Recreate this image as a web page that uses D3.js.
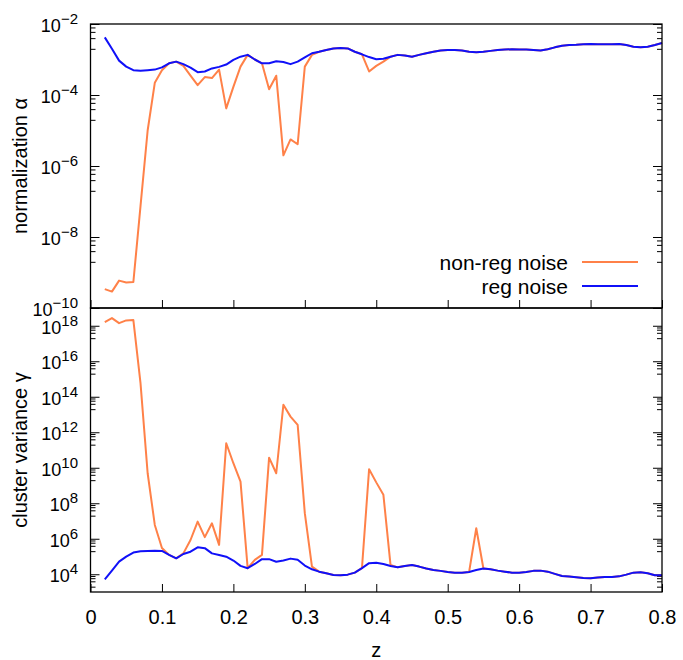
<!DOCTYPE html>
<meta charset="utf-8">
<style>
body { margin: 0; background: #fff; }
text { font-family: "Liberation Sans", Arial, sans-serif; fill: #000; }
.frame { fill: none; stroke: #000; stroke-width: 1.3px; }
.tick line { stroke: #000; stroke-width: 1px; }
.curve { fill: none; stroke-width: 2px; stroke-linejoin: round; }
</style>
<body>
<script src="https://d3js.org/d3.v7.min.js"></script>
<script>

// redshift grid
var z = [0.02, 0.03, 0.04, 0.05, 0.06, 0.07, 0.08, 0.09, 0.10,
  0.11, 0.12, 0.13, 0.14, 0.15, 0.16, 0.17, 0.18, 0.19, 0.20,
  0.21, 0.22, 0.23, 0.24, 0.25, 0.26, 0.27, 0.28, 0.29, 0.30,
  0.31, 0.32, 0.33, 0.34, 0.35, 0.36, 0.37, 0.38, 0.39, 0.40,
  0.41, 0.42, 0.43, 0.44, 0.45, 0.46, 0.47, 0.48, 0.49, 0.50,
  0.51, 0.52, 0.53, 0.54, 0.55, 0.56, 0.57, 0.58, 0.59, 0.60,
  0.61, 0.62, 0.63, 0.64, 0.65, 0.66, 0.67, 0.68, 0.69, 0.70,
  0.71, 0.72, 0.73, 0.74, 0.75, 0.76, 0.77, 0.78, 0.79, 0.80];

// normalization alpha
var nonRegAlpha = [3.4e-10, 2.9e-10, 5.9e-10, 5.2e-10, 5.4e-10, 7.4e-8, 1.0e-5, 2.2e-4, 5.0e-4,
  7.8e-4, 8.7e-4, 6.6e-4, 3.5e-4, 1.9e-4, 3.2e-4, 3.0e-4, 5.2e-4, 4.2e-5, 1.7e-4,
  6.3e-4, 1.35e-3, 1.0e-3, 7.8e-4, 1.45e-4, 3.5e-4, 2.0e-6, 5.6e-6, 4.1e-6, 6.3e-4,
  1.35e-3, 1.65e-3, 1.85e-3, 2.05e-3, 2.1e-3, 2.05e-3, 1.65e-3, 1.4e-3, 4.6e-4, 6.6e-4,
  8.7e-4, 1.2e-3, 1.35e-3, 1.3e-3, 1.2e-3, 1.35e-3, 1.5e-3, 1.65e-3, 1.8e-3, 1.85e-3,
  1.85e-3, 1.8e-3, 1.65e-3, 1.6e-3, 1.65e-3, 1.75e-3, 1.85e-3, 1.9e-3, 1.95e-3, 1.9e-3,
  1.9e-3, 1.85e-3, 1.8e-3, 1.95e-3, 2.2e-3, 2.45e-3, 2.55e-3, 2.6e-3, 2.7e-3, 2.75e-3,
  2.7e-3, 2.7e-3, 2.7e-3, 2.75e-3, 2.55e-3, 2.3e-3, 2.2e-3, 2.3e-3, 2.55e-3, 2.9e-3];

var regAlpha = [4.2e-3, 2.0e-3, 9.3e-4, 6.3e-4, 5.0e-4, 4.8e-4, 5.0e-4, 5.2e-4, 6.0e-4,
  7.8e-4, 8.7e-4, 7.4e-4, 5.9e-4, 4.4e-4, 4.6e-4, 5.6e-4, 6.2e-4, 7.2e-4, 9.8e-4,
  1.2e-3, 1.35e-3, 1.0e-3, 7.8e-4, 7.8e-4, 8.9e-4, 8.5e-4, 7.4e-4, 8.7e-4, 1.15e-3,
  1.5e-3, 1.65e-3, 1.85e-3, 2.05e-3, 2.1e-3, 2.05e-3, 1.65e-3, 1.4e-3, 1.17e-3, 1.02e-3,
  1.05e-3, 1.2e-3, 1.35e-3, 1.3e-3, 1.2e-3, 1.35e-3, 1.5e-3, 1.65e-3, 1.8e-3, 1.85e-3,
  1.85e-3, 1.8e-3, 1.65e-3, 1.6e-3, 1.65e-3, 1.75e-3, 1.85e-3, 1.9e-3, 1.95e-3, 1.9e-3,
  1.9e-3, 1.85e-3, 1.8e-3, 1.95e-3, 2.2e-3, 2.45e-3, 2.55e-3, 2.6e-3, 2.7e-3, 2.75e-3,
  2.7e-3, 2.7e-3, 2.7e-3, 2.75e-3, 2.55e-3, 2.3e-3, 2.2e-3, 2.3e-3, 2.55e-3, 2.9e-3];

// cluster variance gamma
var nonRegGamma = [1.6e18, 2.7e18, 1.4e18, 2.0e18, 2.1e18, 5.9e14, 4.9e9, 6.0e6, 3.0e5,
  1.23e5, 7.9e4, 1.5e5, 8.5e5, 9.3e6, 1.23e6, 7.4e6, 4.5e5, 2.4e11, 1.8e10,
  1.66e9, 2.2e4, 6.5e4, 1.23e5, 3.7e10, 4.9e9, 3.5e13, 7.6e12, 2.6e12, 2.75e7,
  2.7e4, 1.4e4, 1.15e4, 9.1e3, 8.7e3, 9.5e3, 1.23e4, 2.2e4, 8.3e9, 1.5e9,
  3.0e8, 3.3e4, 2.45e4, 2.95e4, 3.3e4, 2.7e4, 2.1e4, 1.74e4, 1.55e4, 1.35e4,
  1.23e4, 1.23e4, 1.35e4, 3.9e6, 2.1e4, 1.9e4, 1.6e4, 1.4e4, 1.23e4, 1.23e4,
  1.35e4, 1.55e4, 1.6e4, 1.4e4, 1.05e4, 7.9e3, 7.4e3, 6.8e3, 6.2e3, 5.9e3,
  6.5e3, 7.1e3, 7.1e3, 7.6e3, 9.5e3, 1.23e4, 1.3e4, 1.15e4, 8.7e3, 8.7e3];

var regGamma = [5.2e3, 1.6e4, 5.1e4, 9.8e4, 1.66e5, 2.0e5, 2.05e5, 2.1e5, 2.05e5,
  1.23e5, 7.9e4, 1.38e5, 1.86e5, 3.3e5, 2.95e5, 1.5e5, 1.23e5, 9.8e4, 5.9e4,
  2.95e4, 2.2e4, 3.8e4, 7.1e4, 7.1e4, 5.1e4, 5.9e4, 7.6e4, 6.5e4, 3.1e4,
  1.9e4, 1.4e4, 1.15e4, 9.1e3, 8.7e3, 9.5e3, 1.23e4, 2.2e4, 4.2e4, 4.5e4,
  3.8e4, 2.95e4, 2.45e4, 2.95e4, 3.3e4, 2.7e4, 2.1e4, 1.74e4, 1.55e4, 1.35e4,
  1.23e4, 1.23e4, 1.35e4, 1.74e4, 2.1e4, 1.9e4, 1.6e4, 1.4e4, 1.23e4, 1.23e4,
  1.35e4, 1.55e4, 1.6e4, 1.4e4, 1.05e4, 7.9e3, 7.4e3, 6.8e3, 6.2e3, 5.9e3,
  6.5e3, 7.1e3, 7.1e3, 7.6e3, 9.5e3, 1.23e4, 1.3e4, 1.15e4, 8.7e3, 8.7e3];

// ticks
var xTicks = [0, 0.1, 0.2, 0.3, 0.4, 0.5, 0.6, 0.7, 0.8];
var xTickLabels = ["0", "0.1", "0.2", "0.3", "0.4", "0.5", "0.6", "0.7", "0.8"];
var alphaExps = [-2, -4, -6, -8, -10];
var gammaExps = [4, 6, 8, 10, 12, 14, 16, 18];

var seriesNames = ["non-reg noise", "reg noise"];
var colors = ["#ff8148", "#1010f8"];

var width = 683, height = 660;
// note: "top" is taken by window.top, so the edges get plot* names
var plotLeft = 90.5, plotRight = 662, plotTop = 24, plotMid = 308, plotBottom = 592;

var svg = d3.select("body").append("svg")
  .attr("width", width)
  .attr("height", height);

var x = d3.scaleLinear().domain([0, 0.8]).range([plotLeft, plotRight]);
var yA = d3.scaleLog().domain([1e-10, 1e-2]).range([plotMid, plotTop]);
var yG = d3.scaleLog().domain([1e3, 1e19]).range([plotBottom, plotMid]);

// minor ticks sit at 2,4,6,8 x 10^(e-1) below every major 10^e
function minorTicks(exps, y) {
  var dom = y.domain(), out = [];
  exps.forEach(function(e) {
    [2, 4, 6, 8].forEach(function(k) {
      var v = k * Math.pow(10, e - 1);
      if (v >= dom[0] && v <= dom[1]) out.push(v);
    });
  });
  return out;
}

function drawPanel(y, exps, series, y0, y1, showXLabels) {
  var g = svg.append("g");
  var majors = exps.map(function(e) { return Math.pow(10, e); });
  var minors = minorTicks(exps, y);

  // y ticks on both sides, pointing inward
  [[d3.axisLeft, plotLeft], [d3.axisRight, plotRight]].forEach(function(s) {
    g.append("g").attr("transform", "translate(" + s[1] + ",0)")
      .call(s[0](y).tickValues(majors).tickSize(-9).tickSizeOuter(0).tickFormat(""))
      .call(function(a) { a.select(".domain").remove(); });
    g.append("g").attr("transform", "translate(" + s[1] + ",0)")
      .call(s[0](y).tickValues(minors).tickSize(-5).tickSizeOuter(0).tickFormat(""))
      .call(function(a) { a.select(".domain").remove(); });
  });

  // x ticks pointing up from the panel bottom
  var xa = g.append("g").attr("transform", "translate(0," + y1 + ")")
    .call(d3.axisBottom(x).tickValues(xTicks).tickSize(-8).tickSizeOuter(0).tickPadding(18)
      .tickFormat(function(d, i) { return showXLabels ? xTickLabels[i] : ""; }));
  xa.select(".domain").remove();
  xa.attr("font-size", 20).attr("font-family", null);

  // y tick labels as 10^e
  exps.forEach(function(e) {
    var t = g.append("text")
      .attr("x", 78)
      .attr("y", y(Math.pow(10, e)) + 8)
      .attr("text-anchor", "end")
      .attr("font-size", 18);
    t.append("tspan").text("10");
    t.append("tspan").attr("font-size", 15).attr("dy", -8).text(String(e).replace("-", "\u2212"));
  });

  // curves
  var line = d3.line()
    .x(function(d, i) { return x(z[i]); })
    .y(function(d) { return y(d); });

  series.forEach(function(s, i) {
    g.append("path")
      .attr("class", "curve")
      .attr("d", line(s))
      .attr("stroke", colors[i]);
  });

  g.append("rect")
    .attr("class", "frame")
    .attr("x", plotLeft)
    .attr("y", y0)
    .attr("width", plotRight - plotLeft)
    .attr("height", y1 - y0);
  return g;
}

drawPanel(yA, alphaExps, [nonRegAlpha, regAlpha], plotTop, plotMid, false);
drawPanel(yG, gammaExps, [nonRegGamma, regGamma], plotMid, plotBottom, true);

// axis titles
svg.append("text")
  .attr("transform", "translate(27," + (plotTop + plotMid) / 2 + ") rotate(-90)")
  .attr("text-anchor", "middle")
  .attr("font-size", 20)
  .text("normalization \u03b1");

svg.append("text")
  .attr("transform", "translate(27,450) rotate(-90)")
  .attr("text-anchor", "middle")
  .attr("font-size", 20)
  .text("cluster variance \u03b3");

svg.append("text")
  .attr("x", (plotLeft + plotRight) / 2)
  .attr("y", 657)
  .attr("text-anchor", "middle")
  .attr("font-size", 20)
  .text("z");

// legend
var legend = svg.append("g");
seriesNames.forEach(function(name, i) {
  var ly = 262 + i * 24;
  legend.append("text")
    .attr("x", 568)
    .attr("y", ly + 8)
    .attr("text-anchor", "end")
    .attr("font-size", 21)
    .text(name);
  legend.append("line")
    .attr("x1", 582).attr("x2", 638)
    .attr("y1", ly).attr("y2", ly)
    .attr("stroke", colors[i])
    .attr("stroke-width", 2);
});

</script>
</body>
